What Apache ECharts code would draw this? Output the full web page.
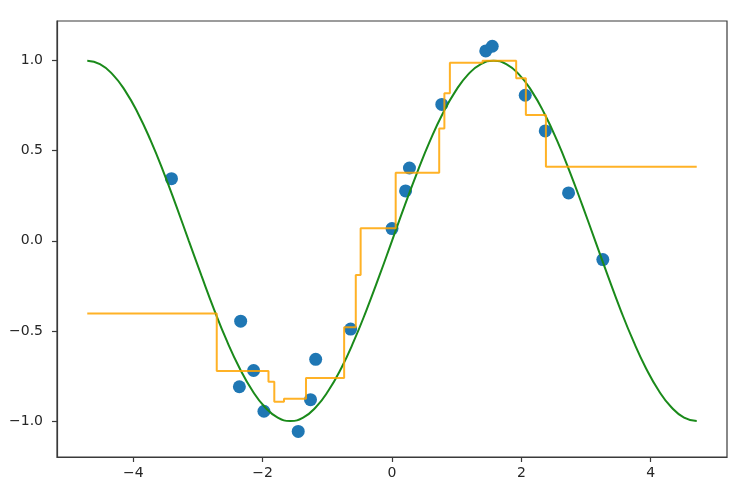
<!DOCTYPE html>
<html>
<head>
<meta charset="utf-8">
<script src="https://cdn.jsdelivr.net/npm/echarts@6/dist/echarts.min.js"></script>
<style>html,body{margin:0;padding:0;background:#fff;}#c{width:748px;height:504px;}</style>
</head>
<body>
<div id="c"></div>
<script>
// Noisy samples (blue dots)
const scatterX = [-3.41, -2.34, -2.14, -2.36, -1.98, -1.45, -1.26, -1.18, -0.64, 0.00, 0.21, 0.27, 0.77, 1.45, 1.55, 2.06, 2.37, 2.73, 3.26];
const scatterY = [0.345, -0.446, -0.72, -0.81, -0.946, -1.058, -0.882, -0.658, -0.49, 0.068, 0.277, 0.404, 0.757, 1.054, 1.08, 0.808, 0.61, 0.266, -0.104];

// Smooth curve (green)
const curveX = [-4.712,-4.516,-4.320,-4.123,-3.927,-3.731,-3.534,-3.338,-3.142,-2.945,-2.749,-2.553,-2.356,-2.160,-1.963,-1.767,-1.571,-1.374,-1.178,-0.982,-0.785,-0.589,-0.393,-0.196,0,0.196,0.393,0.589,0.785,0.982,1.178,1.374,1.571,1.767,1.963,2.160,2.356,2.553,2.749,2.945,3.142,3.338,3.534,3.731,3.927,4.123,4.320,4.516,4.712];
const curveY = [1,0.981,0.924,0.831,0.707,0.556,0.383,0.195,0,-0.195,-0.383,-0.556,-0.707,-0.831,-0.924,-0.981,-1,-0.981,-0.924,-0.831,-0.707,-0.556,-0.383,-0.195,0,0.195,0.383,0.556,0.707,0.831,0.924,0.981,1,0.981,0.924,0.831,0.707,0.556,0.383,0.195,0,-0.195,-0.383,-0.556,-0.707,-0.831,-0.924,-0.981,-1];

// Step prediction (orange): level starts and values
const stepX = [-4.712, -2.71, -1.91, -1.82, -1.67, -1.33, -0.74, -0.56, -0.485, 0.057, 0.73, 0.81, 0.895, 1.40, 1.92, 2.07, 2.38, 4.712];
const stepY = [-0.403, -0.722, -0.783, -0.894, -0.877, -0.761, -0.48, -0.19, 0.069, 0.378, 0.624, 0.819, 0.988, 1.0, 0.902, 0.698, 0.411, 0.411];

// Ticks
const xTicks = [-4, -2, 0, 2, 4];
const xTickLabels = ['\u22124', '\u22122', '0', '2', '4'];
const yTicks = [-1, -0.5, 0, 0.5, 1];
const yTickLabels = ['\u22121.0', '\u22120.5', '0.0', '0.5', '1.0'];

const chart = echarts.init(document.getElementById('c'), null, {renderer: 'canvas'});
const textStyle = {color: '#262626', fontSize: 14, fontFamily: 'DejaVu Sans'};
const spine = {color: '#3a3a3a', width: 1.2};

chart.setOption({
  animation: false,
  backgroundColor: '#ffffff',
  grid: {left: 57, right: 21, top: 21, bottom: 47, show: true, borderColor: '#3a3a3a', borderWidth: 1.2, backgroundColor: 'transparent'},
  xAxis: {
    type: 'value', min: -5.18, max: 5.18,
    splitLine: {show: false},
    axisLine: {show: true, onZero: false, lineStyle: spine},
    axisTick: {show: true, length: 5, lineStyle: spine, customValues: xTicks},
    axisLabel: Object.assign({margin: 9, customValues: xTicks,
      formatter: v => xTickLabels[xTicks.indexOf(Math.round(v * 100) / 100)] || ''}, textStyle)
  },
  yAxis: {
    type: 'value', min: -1.2, max: 1.22,
    splitLine: {show: false},
    axisLine: {show: true, onZero: false, lineStyle: spine},
    axisTick: {show: true, length: 5, lineStyle: spine, customValues: yTicks},
    axisLabel: Object.assign({margin: 14, customValues: yTicks,
      formatter: v => yTickLabels[yTicks.indexOf(Math.round(v * 100) / 100)] || ''}, textStyle)
  },
  series: [
    {
      type: 'scatter', name: 'samples',
      data: scatterX.map((x, i) => [x, scatterY[i]]),
      symbolSize: 13,
      itemStyle: {color: '#1f77b4', opacity: 1},
      z: 2
    },
    {
      type: 'line', name: 'curve',
      data: curveX.map((x, i) => [x, curveY[i]]),
      smooth: true, showSymbol: false,
      lineStyle: {color: '#1a8a1a', width: 2},
      z: 3
    },
    {
      type: 'line', name: 'prediction',
      data: stepX.map((x, i) => [x, stepY[i]]),
      step: 'end', showSymbol: false,
      lineStyle: {color: '#ffa500', width: 2, opacity: 0.85},
      z: 4
    }
  ]
});
</script>
</body>
</html>
